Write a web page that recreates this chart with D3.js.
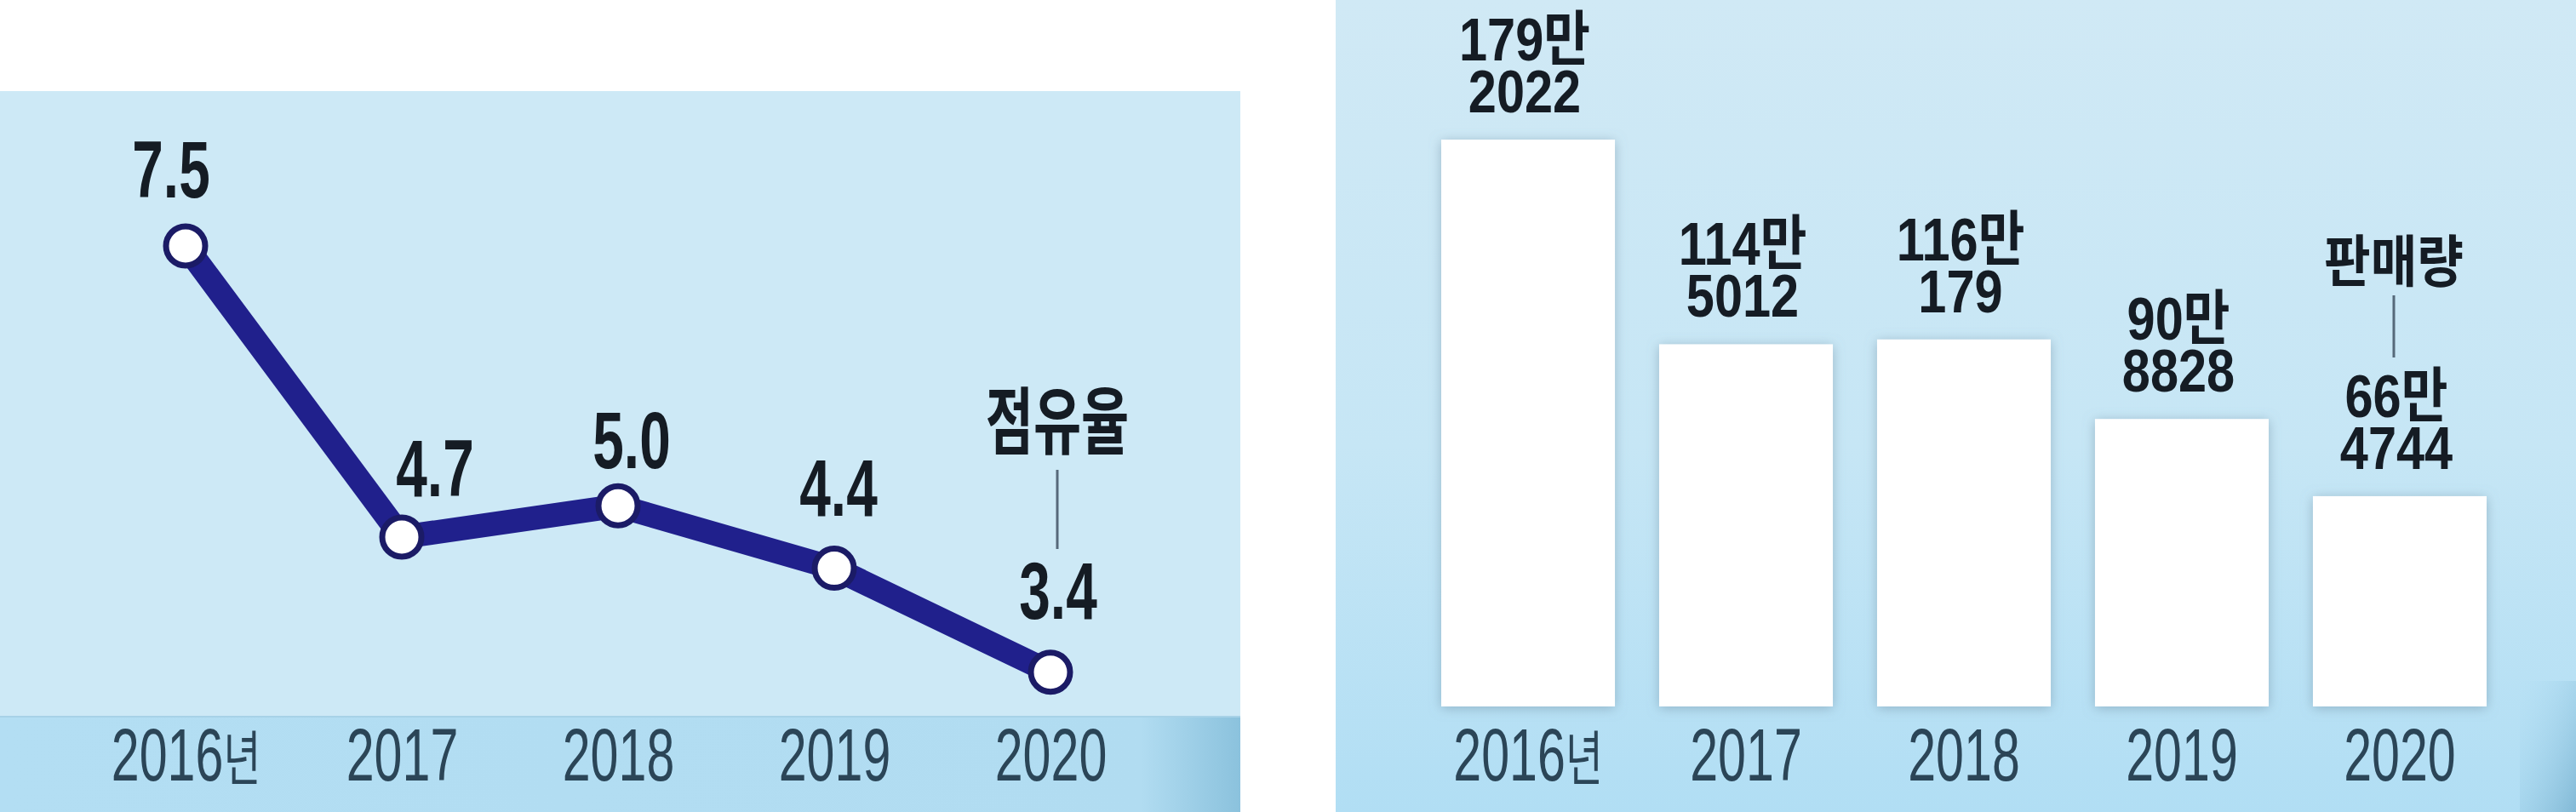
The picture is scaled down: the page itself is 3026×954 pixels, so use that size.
<!DOCTYPE html>
<html>
<head>
<meta charset="utf-8">
<script src="https://cdn.jsdelivr.net/npm/d3@7/dist/d3.min.js"></script>
<style>
  body { margin: 0; background: #fff; }
  svg { display: block; }
  text { font-family: "Liberation Sans", Arial, "Noto Sans CJK KR", sans-serif; }
</style>
</head>
<body>
<svg id="chart"></svg>
<script>

// data
var years = ["2016", "2017", "2018", "2019", "2020"];
var yearLabels = ["2016년", "2017", "2018", "2019", "2020"];
var share = [7.5, 4.7, 5.0, 4.4, 3.4];              // 점유율 (%)
var sales = [1792022, 1145012, 1160179, 908828, 664744]; // 판매량 (대)
var shareName = "점유율";
var salesName = "판매량";

// hand placement of the share labels (dx, dy from each point)
var shareLabelShift = [[-17, -57], [39, -48], [16, -44], [5, -62], [9, -63]];

var W = 3026, H = 954;
var svg = d3.select("#chart").attr("width", W).attr("height", H);
var defs = svg.append("defs");

var bandGrad = defs.append("linearGradient").attr("id", "bandGrad")
    .attr("x1", 0).attr("x2", 1).attr("y1", 0).attr("y2", 0);
bandGrad.append("stop").attr("offset", 0).attr("stop-color", "#b3def3");
bandGrad.append("stop").attr("offset", 0.92).attr("stop-color", "#b1dcf1");
bandGrad.append("stop").attr("offset", 1).attr("stop-color", "#8bc2dd");

var rightGrad = defs.append("linearGradient").attr("id", "rightGrad")
    .attr("x1", 0).attr("x2", 0).attr("y1", 0).attr("y2", 1);
rightGrad.append("stop").attr("offset", 0).attr("stop-color", "#d0e9f5");
rightGrad.append("stop").attr("offset", 0.55).attr("stop-color", "#c6e6f5");
rightGrad.append("stop").attr("offset", 1).attr("stop-color", "#b1def4");

var cornerGrad = defs.append("linearGradient").attr("id", "cornerGrad")
    .attr("x1", 0).attr("x2", 1).attr("y1", 0).attr("y2", 1);
cornerGrad.append("stop").attr("offset", 0).attr("stop-color", "#b1def4").attr("stop-opacity", 0);
cornerGrad.append("stop").attr("offset", 1).attr("stop-color", "#82b9d6");

var shadow = defs.append("filter").attr("id", "barShadow")
    .attr("x", "-20%").attr("y", "-20%").attr("width", "140%").attr("height", "140%");
shadow.append("feDropShadow").attr("dx", 0).attr("dy", 2).attr("stdDeviation", 7)
    .attr("flood-color", "#6f8fa3").attr("flood-opacity", 0.55);

// squeezed text, like the condensed newspaper face
function squeezed(g, x, y, str, size, weight, sx, fill) {
    return g.append("text")
        .attr("transform", "translate(" + x + "," + y + ") scale(" + sx + ",1)")
        .attr("text-anchor", "middle")
        .style("font-size", size + "px")
        .style("font-weight", weight)
        .attr("fill", fill)
        .text(str);
}

function styleYearAxis(g) {
    g.select(".domain").remove();
    g.selectAll(".tick line").remove();
    g.selectAll(".tick text").each(function (d, i) {
        var t = d3.select(this);
        var lab = yearLabels[i];
        var m = lab.match(/^(\d+)(.*)$/);
        t.text(null)
            .attr("y", 0).attr("dy", 0)
            .attr("transform", "scale(0.68,1)")
            .attr("fill", "#2b4557")
            .style("font-size", "87px")
            .style("font-weight", 400)
            .style("font-family", "'Liberation Sans', Arial, 'Noto Sans CJK KR', sans-serif");
        t.append("tspan").text(m[1]);
        if (m[2]) t.append("tspan").style("font-size", "70px").text(m[2]);
    });
}

// ---------- left panel: share line ----------
var left = svg.append("g");
left.append("rect").attr("x", 0).attr("y", 107).attr("width", 1457).attr("height", 847)
    .attr("fill", "#cde9f6");
left.append("rect").attr("x", 0).attr("y", 841).attr("width", 1457).attr("height", 113)
    .attr("fill", "url(#bandGrad)");
left.append("rect").attr("x", 0).attr("y", 841).attr("width", 1457).attr("height", 2)
    .attr("fill", "#a7d2e7");

var xL = d3.scalePoint().domain(years).range([218, 1234]);
var yL = d3.scaleLinear().domain([0, 7.5]).range([1205, 289]);

var pts = years.map(function (y, i) { return { year: y, v: share[i], i: i }; });

var line = d3.line().x(function (d) { return xL(d.year); }).y(function (d) { return yL(d.v); });

left.append("path").datum(pts)
    .attr("d", line)
    .attr("fill", "none")
    .attr("stroke", "#20208c")
    .attr("stroke-width", 28)
    .attr("stroke-linejoin", "round");

left.selectAll("circle.pt").data(pts).enter().append("circle")
    .attr("class", "pt")
    .attr("cx", function (d) { return xL(d.year); })
    .attr("cy", function (d) { return yL(d.v); })
    .attr("r", 23)
    .attr("fill", "#ffffff")
    .attr("stroke", "#1b1b66")
    .attr("stroke-width", 7);

pts.forEach(function (d) {
    var s = shareLabelShift[d.i];
    squeezed(left, xL(d.year) + s[0], yL(d.v) + s[1], d.v.toFixed(1), 94, 700, 0.70, "#151c24");
});

// series name with leader to the last point's label
var lastL = pts[pts.length - 1];
var nameX = xL(lastL.year) + 8;
squeezed(left, nameX, 527, shareName, 86, 700, 0.71, "#151c24");
left.append("line").attr("x1", nameX).attr("x2", nameX).attr("y1", 552).attr("y2", 645)
    .attr("stroke", "#56697a").attr("stroke-width", 3);

left.append("g").attr("transform", "translate(0,917)")
    .call(d3.axisBottom(xL).tickSize(0))
    .call(styleYearAxis);

// ---------- right panel: sales bars ----------
var right = svg.append("g");
right.append("rect").attr("x", 1569).attr("y", 0).attr("width", W - 1569).attr("height", H)
    .attr("fill", "url(#rightGrad)");
right.append("rect").attr("x", 2960).attr("y", 800).attr("width", W - 2960).attr("height", H - 800)
    .attr("fill", "url(#cornerGrad)");

var xR = d3.scaleBand().domain(years).range([1693, 2921]).paddingInner(0.203).paddingOuter(0);
var yR = d3.scaleLinear().domain([0, d3.max(sales)]).range([830, 164]);

var bars = years.map(function (y, i) { return { year: y, v: sales[i], i: i }; });

right.selectAll("rect.bar").data(bars).enter().append("rect")
    .attr("class", "bar")
    .attr("x", function (d) { return xR(d.year); })
    .attr("y", function (d) { return yR(d.v); })
    .attr("width", xR.bandwidth())
    .attr("height", function (d) { return yR(0) - yR(d.v); })
    .attr("fill", "#ffffff")
    .attr("filter", "url(#barShadow)");

// two-line value labels: "179만" over "2022"
bars.forEach(function (d) {
    var cx = xR(d.year) + xR.bandwidth() / 2;
    var top = yR(d.v);
    var man = Math.floor(d.v / 10000) + "만";
    var rest = String(d.v % 10000);
    var t = squeezed(right, cx - 4, top - 93, null, 70, 700, 0.85, "#151c24");
    t.append("tspan").attr("x", 0).attr("dy", 0).text(man);
    t.append("tspan").attr("x", 0).attr("dy", 61).text(rest);
});

// series name over the last bar
var lastB = bars[bars.length - 1];
var bx = xR(lastB.year) + xR.bandwidth() / 2 - 7;
squeezed(right, bx, 331, salesName, 66, 700, 0.9, "#151c24");
right.append("line").attr("x1", bx).attr("x2", bx).attr("y1", 347).attr("y2", 420)
    .attr("stroke", "#56697a").attr("stroke-width", 3);

right.append("g").attr("transform", "translate(0,917)")
    .call(d3.axisBottom(xR).tickSize(0))
    .call(styleYearAxis);

</script>
</body>
</html>
